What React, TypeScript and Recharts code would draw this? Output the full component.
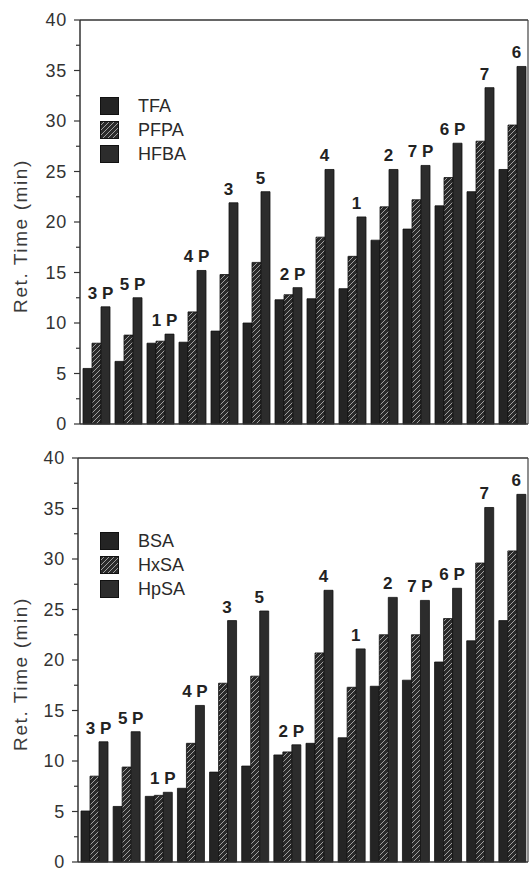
import React from 'react';
import { BarChart, Bar, XAxis, YAxis, LabelList, ReferenceLine, Legend } from 'recharts';

const peakLabels = ['3 P', '5 P', '1 P', '4 P', '3', '5', '2 P', '4', '1', '2', '7 P', '6 P', '7', '6'];

const topNames = ['TFA', 'PFPA', 'HFBA'];
const tfa = [5.5, 6.2, 8.0, 8.1, 9.2, 10.0, 12.3, 12.4, 13.4, 18.2, 19.3, 21.6, 23.0, 25.2];
const pfpa = [8.0, 8.8, 8.2, 11.1, 14.8, 16.0, 12.8, 18.5, 16.6, 21.5, 22.2, 24.4, 28.0, 29.6];
const hfba = [11.6, 12.5, 8.9, 15.2, 21.9, 23.0, 13.5, 25.2, 20.5, 25.2, 25.6, 27.8, 33.3, 35.4];

const bottomNames = ['BSA', 'HxSA', 'HpSA'];
const bsa = [5.05, 5.5, 6.5, 7.3, 8.9, 9.5, 10.6, 11.75, 12.3, 17.4, 18.0, 19.8, 21.9, 23.9];
const hxsa = [8.5, 9.4, 6.6, 11.75, 17.7, 18.4, 10.9, 20.7, 17.3, 22.5, 22.5, 24.1, 29.6, 30.8];
const hpsa = [11.9, 12.9, 6.9, 15.5, 23.9, 24.85, 11.6, 26.9, 21.1, 26.2, 25.9, 27.1, 35.1, 36.4];

const yTicks = [0, 2.5, 5, 7.5, 10, 12.5, 15, 17.5, 20, 22.5, 25, 27.5, 30, 32.5, 35, 37.5, 40];
const yTitle = 'Ret. Time (min)';

const FONT = '"Liberation Sans", Arial, Helvetica, sans-serif';
const SOLID = '#242424';
const SOLID3 = '#2c2c2c';
const HATCH = 'url(#hatchPattern)';
const seriesFills = [SOLID, HATCH, SOLID3];

const buildRows = (a: number[], b: number[], c: number[]) =>
  peakLabels.map((p, i) => ({ peak: p, s1: a[i], s2: b[i], s3: c[i] }));

const topData = buildRows(tfa, pfpa, hfba);
const bottomData = buildRows(bsa, hxsa, hpsa);

const YTick = (props: any) => {
  const { x, y, payload } = props;
  const v = payload.value as number;
  const major = v % 5 === 0;
  return (
    <g>
      <line x1={x - (major ? 6 : 4)} x2={x} y1={y} y2={y} stroke="#333" strokeWidth={1.2} />
      {major && (
        <text
          x={x - 13}
          y={y}
          dy="0.36em"
          textAnchor="end"
          fontSize={18}
          fontFamily={FONT}
          fill="#333"
          letterSpacing={0.8}
        >
          {v}
        </text>
      )}
    </g>
  );
};

const YTitle = (props: any) => {
  const vb = props.viewBox || {};
  const cx = (vb.x || 0) + 20;
  const cy = (vb.y || 0) + (vb.height || 0) / 2 + 14;
  return (
    <text
      x={cx}
      y={cy}
      transform={`rotate(-90, ${cx}, ${cy})`}
      textAnchor="middle"
      dominantBaseline="central"
      fontSize={19}
      fontFamily={FONT}
      fill="#3a3a3a"
      letterSpacing={1.6}
    >
      {yTitle}
    </text>
  );
};

const PeakLabel = (props: any) => {
  const { x, y, width, value } = props;
  return (
    <text
      x={x + width / 2 - 5}
      y={y - 8}
      textAnchor="middle"
      fontSize={17}
      fontWeight="bold"
      fontFamily={FONT}
      fill="#222"
    >
      {value}
    </text>
  );
};

const makeLegend = (names: string[]) => () => (
  <div style={{ fontFamily: FONT }}>
    {names.map((name, i) => (
      <div key={name} style={{ display: 'flex', alignItems: 'center', height: 24 }}>
        <svg width={19} height={18} style={{ display: 'block' }}>
          <rect x={0.5} y={0.5} width={18} height={17} fill={seriesFills[i]} stroke="#111" strokeWidth={1} />
        </svg>
        <span style={{ marginLeft: 19, fontSize: 18, color: '#2a2a2a', lineHeight: '18px' }}>{name}</span>
      </div>
    ))}
  </div>
);

type PanelProps = {
  data: any[];
  names: string[];
  height: number;
  marginTop: number;
  marginBottom: number;
  axisWidth: number;
  legendTop: number;
};

const Panel = ({ data, names, height, marginTop, marginBottom, axisWidth, legendTop }: PanelProps) => {
  const LegendBox = makeLegend(names);
  return (
    <BarChart
      width={529}
      height={height}
      data={data}
      margin={{ top: marginTop, right: 0, bottom: marginBottom, left: 0 }}
      barCategoryGap={3}
      barGap={0}
      style={{ overflow: 'visible' }}
    >
      <XAxis
        dataKey="peak"
        tick={false}
        tickLine={false}
        height={2}
        axisLine={{ stroke: '#333', strokeWidth: 1.5 }}
      />
      <YAxis
        yAxisId="left"
        domain={[0, 40]}
        ticks={yTicks}
        interval={0}
        width={axisWidth}
        tickSize={0}
        tickMargin={0}
        tickLine={false}
        tick={<YTick />}
        axisLine={{ stroke: '#333', strokeWidth: 1.5 }}
        label={<YTitle />}
      />
      <YAxis
        yAxisId="right"
        orientation="right"
        domain={[0, 40]}
        width={1}
        tick={false}
        tickLine={false}
        axisLine={{ stroke: '#444', strokeWidth: 1.2 }}
      />
      <ReferenceLine yAxisId="left" y={40} stroke="#333" strokeWidth={1.5} />
      <Legend
        layout="vertical"
        align="center"
        verticalAlign="middle"
        content={<LegendBox />}
        wrapperStyle={{ left: 100, top: legendTop, width: 'auto', height: 'auto' }}
      />
      <Bar yAxisId="left" dataKey="s1" name={names[0]} fill={seriesFills[0]} stroke="#111" strokeWidth={0.8} isAnimationActive={false} />
      <Bar yAxisId="left" dataKey="s2" name={names[1]} fill={seriesFills[1]} stroke="#111" strokeWidth={0.8} isAnimationActive={false} />
      <Bar yAxisId="left" dataKey="s3" name={names[2]} fill={seriesFills[2]} stroke="#111" strokeWidth={0.8} isAnimationActive={false}>
        <LabelList dataKey="peak" content={<PeakLabel />} />
      </Bar>
    </BarChart>
  );
};

export default function App() {
  return (
    <div style={{ position: 'absolute', left: 0, top: 0, width: 529, height: 869, background: '#fff', overflow: 'hidden' }}>
      <svg width={0} height={0} style={{ position: 'absolute' }}>
        <defs>
          <pattern id="hatchPattern" patternUnits="userSpaceOnUse" width={5} height={5}>
            <rect x={0} y={0} width={5} height={5} fill="#2a2a2a" />
            <path d="M-1,1 l2,-2 M0,5 l5,-5 M4,6 l2,-2" stroke="#a0a0a0" strokeWidth={1} />
          </pattern>
        </defs>
      </svg>
      <div style={{ position: 'absolute', left: 0, top: 0 }}>
        <Panel
          data={topData}
          names={topNames}
          height={438}
          marginTop={20}
          marginBottom={12}
          axisWidth={80}
          legendTop={94}
        />
      </div>
      <div style={{ position: 'absolute', left: 0, top: 440 }}>
        <Panel
          data={bottomData}
          names={bottomNames}
          height={429}
          marginTop={18}
          marginBottom={5}
          axisWidth={78}
          legendTop={89}
        />
      </div>
    </div>
  );
}
